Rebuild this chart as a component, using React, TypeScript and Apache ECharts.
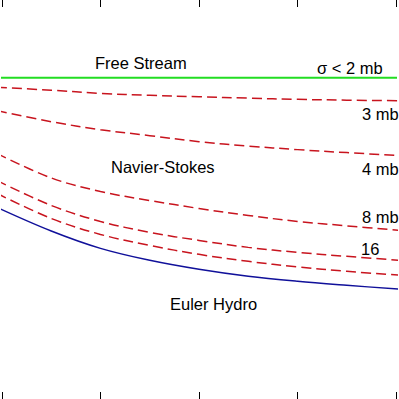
import React, { useEffect, useRef } from "react";
import * as echarts from "echarts";

const X = [-0.05, 0.5, 1, 1.5, 2, 2.5, 3, 3.5, 4.05];
const freeStreamX = [-1, 5];
const freeStream = [80.5, 80.5];
const sigma3 = [78.1, 77.4, 76.6, 76.1, 75.75, 75.4, 75.1, 74.9, 74.75];
const sigma4 = [72.25, 69.5, 67.5, 66, 64.5, 63.4, 62.5, 61.75, 61];
const sigma8 = [61.5, 55.4, 52, 49.75, 47.75, 46, 44.5, 43.4, 42.25];
const sigma16 = [54.75, 48.5, 44.5, 41.75, 39.75, 38, 36.75, 35.75, 34.75];
const sigma32 = [51.5, 45.25, 41.25, 38.5, 36.25, 34.5, 33.1, 32, 31];
const euler = [48, 42.1, 37.75, 34.75, 32.5, 30.75, 29.5, 28.5, 27.5];

const labels = [
  { text: "Free Stream", x: 95, y: 63 },
  { text: "σ < 2 mb", x: 317, y: 68 },
  { text: "3 mb", x: 362, y: 114 },
  { text: "Navier-Stokes", x: 111, y: 166.5 },
  { text: "4 mb", x: 362, y: 169 },
  { text: "8 mb", x: 362, y: 217 },
  { text: "16", x: 361, y: 249 },
  { text: "Euler Hydro", x: 170, y: 303.5 },
];

const zip = (xs: number[], ys: number[]) => ys.map((y, i) => [xs[i], y]);

export default function App() {
  const ref = useRef<HTMLDivElement>(null);
  useEffect(() => {
    if (!ref.current) return;
    const chart = echarts.init(ref.current, null, { renderer: "svg" });
    const curve = (name: string, data: number[], lineStyle: any) => ({
      name,
      type: "line",
      data: zip(X, data),
      smooth: 0.35,
      clip: false,
      showSymbol: false,
      lineStyle,
    });
    const red = (name: string, data: number[]) =>
      curve(name, data, { color: "#c8141e", width: 1.5, type: [10, 5] });
    const tickAxis = (position: "top" | "bottom") => ({
      type: "value",
      position,
      min: 0,
      max: 4,
      interval: 1,
      axisLine: { show: false },
      axisLabel: { show: false },
      splitLine: { show: false },
      axisTick: { show: true, inside: true, length: 7, lineStyle: { color: "#000", width: 1 } },
    });
    chart.setOption({
      animation: false,
      backgroundColor: "#ffffff",
      grid: { left: 2, right: 3, top: 0, bottom: 0, containLabel: false },
      xAxis: [tickAxis("bottom"), tickAxis("top")],
      yAxis: { type: "value", min: 0, max: 100, show: false },
      series: [
        {
          name: "Free Stream",
          type: "line",
          data: zip(freeStreamX, freeStream),
          clip: false,
          showSymbol: false,
          lineStyle: { color: "#22dd22", width: 2 },
        },
        red("3 mb", sigma3),
        red("4 mb", sigma4),
        red("8 mb", sigma8),
        red("16 mb", sigma16),
        red("32 mb", sigma32),
        curve("Euler Hydro", euler, { color: "#10109a", width: 1.5 }),
      ],
      graphic: labels.map((l) => ({
        type: "text",
        x: l.x,
        y: l.y,
        style: {
          text: l.text,
          fill: "#000",
          font: '16.5px "Liberation Sans", Arial, sans-serif',
          textAlign: "left",
          textVerticalAlign: "middle",
        },
      })),
    });
    return () => chart.dispose();
  }, []);
  return (
    <div
      ref={ref}
      style={{ position: "fixed", left: 0, top: 0, width: 399, height: 399, background: "#fff" }}
    />
  );
}
